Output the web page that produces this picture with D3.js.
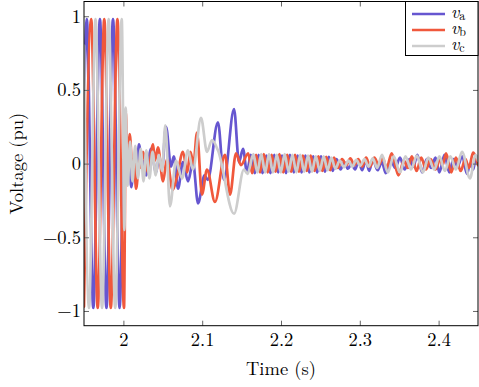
<!DOCTYPE html>
<html>
<head>
<meta charset="utf-8">
<script src="https://cdn.jsdelivr.net/npm/d3@7"></script>
<style>
  html, body { margin: 0; padding: 0; background: #fff; }
  svg { display: block; }
</style>
</head>
<body>
<svg id="chart" width="479" height="387"></svg>
<script>
// ---- data (time in s, voltage in pu) ----
const xTicks = [2, 2.1, 2.2, 2.3, 2.4];
const yTicks = [-1, -0.5, 0, 0.5, 1];
const xDomain = [1.95, 2.45];
const yDomain = [-1.1, 1.1];
const seriesNames = ["a", "b", "c"];

const phaseA = [
  [1.9500,0.35],[1.9535,0.98],[1.9618,-0.98],[1.9702,0.98],[1.9785,-0.98],[1.9868,0.98],[1.9952,-0.98],
  [2.0010,0.15],[2.0035,-0.12],[2.0065,0.09],[2.0100,-0.16],[2.0140,0.05],[2.0168,-0.05],[2.0198,0.13],
  [2.0240,-0.03],[2.0262,0.02],[2.0287,-0.08],[2.0350,0.10],[2.0414,-0.06],[2.0450,0.03],[2.0490,-0.03],
  [2.0541,0.25],[2.0604,-0.02],[2.0640,0.05],[2.0693,-0.17],[2.0756,0.01],[2.0820,-0.12],[2.0883,0.01],
  [2.0947,-0.27],[2.1030,-0.08],[2.1070,-0.11],[2.1200,0.28],[2.1277,-0.11],[2.1404,0.37],[2.1467,0.01],
  [2.1518,0.10],
  [2.1568,-0.06],[2.1617,0.06],[2.1667,-0.065],[2.1716,0.06],[2.1766,-0.065],[2.1815,0.055],[2.1865,-0.065],
  [2.1914,0.06],[2.1964,-0.06],[2.2013,0.055],[2.2063,-0.065],[2.2112,0.06],[2.2162,-0.06],[2.2211,0.055],
  [2.2261,-0.06],[2.2310,0.055],[2.2360,-0.06],[2.2409,0.05],[2.2459,-0.06],[2.2508,0.05],[2.2558,-0.055],
  [2.2607,0.045],[2.2657,-0.05],[2.2706,0.03],[2.2756,-0.04],
  [2.2800,0.01],[2.2850,-0.035],[2.2895,0.0],[2.2940,-0.04],[2.2985,0.015],[2.3030,-0.045],[2.3075,0.02],
  [2.3120,-0.05],[2.3165,0.03],[2.3225,-0.045],[2.3280,0.01],[2.3330,-0.065],[2.3395,0.02],[2.3450,-0.03],
  [2.3510,0.04],[2.3570,-0.04],[2.3630,0.03],[2.3680,-0.02],[2.3730,0.06],[2.3790,-0.06],[2.3850,0.03],
  [2.3905,-0.03],[2.3960,0.04],[2.4010,-0.06],[2.4075,0.06],[2.4135,-0.06],[2.4190,0.03],[2.4240,-0.02],
  [2.4300,0.05],[2.4360,-0.07],[2.4400,0.0],[2.4440,-0.04],[2.4475,0.05],[2.4500,0.03]
];

const phaseB = [
  [1.9500,-0.97],[1.9591,0.98],[1.9674,-0.98],[1.9757,0.98],[1.9840,-0.98],[1.9924,0.98],[2.0008,-0.98],
  [2.0030,0.36],[2.0052,-0.06],[2.0080,0.20],[2.0116,-0.05],[2.0135,0.04],[2.0160,-0.17],[2.0205,0.02],
  [2.0225,-0.03],[2.0249,0.08],[2.0312,-0.06],[2.0376,0.13],[2.0400,0.02],[2.0439,0.11],[2.0503,-0.12],
  [2.0553,0.03],[2.0625,-0.18],[2.0680,-0.09],[2.0756,0.08],[2.0810,-0.06],[2.0850,0.08],[2.0890,0.0],
  [2.0934,0.21],[2.0997,-0.21],[2.1061,-0.04],[2.1162,-0.26],[2.1289,0.06],[2.1353,-0.21],[2.1429,0.07],
  [2.1492,-0.01],
  [2.1584,0.07],[2.1634,-0.065],[2.1683,0.06],[2.1733,-0.06],[2.1782,0.065],[2.1832,-0.06],[2.1881,0.06],
  [2.1931,-0.055],[2.1980,0.065],[2.2030,-0.06],[2.2079,0.06],[2.2129,-0.055],[2.2178,0.06],[2.2228,-0.055],
  [2.2277,0.055],[2.2327,-0.05],[2.2376,0.055],[2.2426,-0.05],[2.2475,0.05],[2.2525,-0.05],[2.2574,0.045],
  [2.2624,-0.045],[2.2673,0.04],[2.2723,-0.03],
  [2.2775,0.03],[2.2830,-0.01],[2.2880,0.035],[2.2930,-0.01],[2.2980,0.03],[2.3030,-0.02],[2.3080,0.04],
  [2.3130,-0.02],[2.3185,0.04],[2.3240,-0.01],[2.3290,0.04],[2.3340,-0.03],[2.3405,0.07],[2.3490,-0.08],
  [2.3560,0.02],[2.3610,-0.03],[2.3660,0.05],[2.3720,-0.05],[2.3780,0.04],[2.3840,-0.04],[2.3900,0.03],
  [2.3960,-0.04],[2.4020,0.03],[2.4050,-0.01],[2.4095,0.07],[2.4160,-0.06],[2.4220,0.04],[2.4280,-0.05],
  [2.4340,0.03],[2.4385,-0.03],[2.4437,0.075],[2.4500,-0.01]
];

const phaseC = [
  [1.9500,0.80],[1.9563,-0.98],[1.9646,0.98],[1.9729,-0.98],[1.9813,0.98],[1.9896,-0.98],[1.9979,0.98],
  [2.0013,-0.45],[2.0028,0.38],[2.0055,-0.15],[2.0085,0.15],[2.0115,-0.12],[2.0150,0.12],[2.0185,-0.10],
  [2.0220,0.10],[2.0255,-0.12],[2.0290,0.09],[2.0330,-0.10],[2.0370,0.08],[2.0410,-0.08],[2.0450,0.06],
  [2.0490,-0.05],[2.0532,0.26],[2.0591,-0.29],[2.0668,0.02],[2.0744,-0.10],[2.0820,0.09],[2.0883,-0.04],
  [2.0985,0.31],[2.1061,0.08],[2.1124,0.16],[2.1200,0.09],[2.1404,-0.34],[2.1530,-0.04],[2.1575,-0.07],
  [2.1650,0.065],[2.1700,-0.06],[2.1749,0.065],[2.1799,-0.06],[2.1848,0.065],[2.1898,-0.06],[2.1947,0.06],
  [2.1997,-0.06],[2.2046,0.065],[2.2096,-0.055],[2.2145,0.06],[2.2195,-0.06],[2.2244,0.06],[2.2294,-0.055],
  [2.2343,0.055],[2.2393,-0.055],[2.2442,0.05],[2.2492,-0.05],[2.2541,0.05],[2.2591,-0.045],[2.2640,0.04],
  [2.2690,-0.035],
  [2.2745,0.02],[2.2800,-0.025],[2.2855,0.02],[2.2905,-0.02],[2.2955,0.025],[2.3005,-0.015],[2.3060,0.03],
  [2.3110,-0.02],[2.3165,0.035],[2.3220,-0.03],[2.3282,0.06],[2.3355,-0.06],[2.3430,0.05],[2.3510,-0.06],
  [2.3580,0.05],[2.3650,-0.04],[2.3725,0.055],[2.3800,-0.06],[2.3870,0.04],[2.3945,-0.04],[2.4010,0.05],
  [2.4080,-0.05],[2.4150,0.05],[2.4220,-0.04],[2.4297,0.08],[2.4398,-0.10],[2.4470,0.06],[2.4500,0.02]
];

// ---- styling ----
const colors = ["#6656d0", "#f0583c", "#cdcdcd"];
const plot = { left: 84, right: 478, top: 1.5, bottom: 325.7 };
const FONT = "Latin Modern Roman";
const FS = 18.5;

const svg = d3.select("#chart");
const x = d3.scaleLinear().domain(xDomain).range([plot.left, plot.right]);
const y = d3.scaleLinear().domain(yDomain).range([plot.bottom, plot.top]);

const fmt = d => String(d).replace("-", "\u2212");

svg.append("defs").append("clipPath").attr("id", "clip")
  .append("rect")
  .attr("x", plot.left).attr("y", plot.top)
  .attr("width", plot.right - plot.left).attr("height", plot.bottom - plot.top);

// lines
const line = d3.line().x(d => x(d[0])).y(d => y(d[1])).curve(d3.curveMonotoneX);
const allSeries = [phaseA, phaseB, phaseC];
const gLines = svg.append("g").attr("clip-path", "url(#clip)");
allSeries.forEach((s, i) => {
  gLines.append("path")
    .datum(s)
    .attr("d", line)
    .attr("fill", "none")
    .attr("stroke", colors[i])
    .attr("stroke-width", 2.7)
    .attr("stroke-linejoin", "round")
    .attr("stroke-linecap", "round");
});

// axes (inward ticks)
const tickLen = 5;
function styleAxis(g) {
  g.attr("font-family", FONT).attr("font-size", FS);
  g.select(".domain").remove();
  g.selectAll(".tick line").attr("stroke", "#666").attr("stroke-width", 1);
  g.selectAll(".tick text").attr("fill", "#000").attr("font-family", FONT).attr("font-size", FS);
}
svg.append("g").attr("transform", `translate(0,${plot.bottom})`)
  .call(d3.axisBottom(x).tickValues(xTicks).tickSizeInner(-tickLen).tickSizeOuter(0).tickPadding(7).tickFormat(fmt))
  .call(styleAxis);
svg.append("g").attr("transform", `translate(0,${plot.top})`)
  .call(d3.axisTop(x).tickValues(xTicks).tickSizeInner(-tickLen).tickSizeOuter(0).tickFormat(""))
  .call(styleAxis);
svg.append("g").attr("transform", `translate(${plot.left},0)`)
  .call(d3.axisLeft(y).tickValues(yTicks).tickSizeInner(-tickLen).tickSizeOuter(0).tickPadding(3).tickFormat(fmt))
  .call(styleAxis);
svg.append("g").attr("transform", `translate(${plot.right},0)`)
  .call(d3.axisRight(y).tickValues(yTicks).tickSizeInner(-tickLen).tickSizeOuter(0).tickFormat(""))
  .call(styleAxis);

// frame
svg.append("rect")
  .attr("x", plot.left).attr("y", plot.top)
  .attr("width", plot.right - plot.left).attr("height", plot.bottom - plot.top)
  .attr("fill", "none").attr("stroke", "#000").attr("stroke-width", 1);

// axis titles
svg.append("text")
  .attr("x", (plot.left + plot.right) / 2).attr("y", 375)
  .attr("text-anchor", "middle").attr("font-family", FONT).attr("font-size", FS)
  .attr("fill", "#000")
  .text("Time (s)");
svg.append("text")
  .attr("transform", `translate(22.5,${(plot.top + plot.bottom) / 2}) rotate(-90)`)
  .attr("text-anchor", "middle").attr("font-family", FONT).attr("font-size", FS)
  .attr("fill", "#000")
  .text("Voltage (pu)");

// legend
const lg = svg.append("g");
lg.append("rect")
  .attr("x", 405.5).attr("y", plot.top).attr("width", plot.right - 405.5).attr("height", 54)
  .attr("fill", "#fff").attr("stroke", "#000").attr("stroke-width", 1);
seriesNames.forEach((n, i) => {
  const ly = 14 + i * 16;
  lg.append("line").attr("x1", 412).attr("x2", 445).attr("y1", ly).attr("y2", ly)
    .attr("stroke", colors[i]).attr("stroke-width", 2.7);
  const t = lg.append("text").attr("x", 451).attr("y", ly + 3.5)
    .attr("font-family", FONT).attr("font-size", 14).attr("fill", "#000");
  t.append("tspan").attr("font-style", "italic").attr("font-size", 18).text("v");
  t.append("tspan").attr("dy", 2.5).attr("font-size", 12).text(n);
});
</script>
</body>
</html>
